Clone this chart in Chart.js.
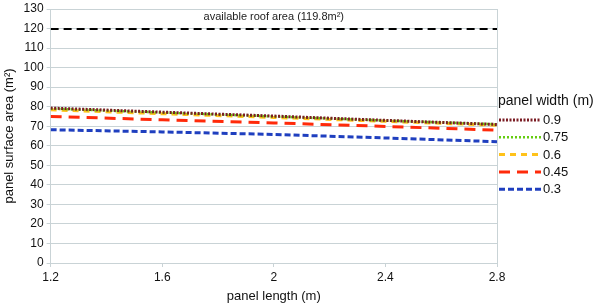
<!DOCTYPE html>
<html><head><meta charset="utf-8">
<script src="https://cdn.jsdelivr.net/npm/chart.js@4.4.0/dist/chart.umd.min.js"></script>
<style>html,body{margin:0;padding:0;background:#fff;}#wrap{width:600px;height:304px;}</style>
</head><body><div id="wrap"><canvas id="c" width="600" height="304"></canvas></div>
<script>
const panelLength = [1.2, 1.6, 2.0, 2.4, 2.8];
const xTicks = [1.2, 1.6, 2, 2.4, 2.8];
const w090 = [79.3, 77.2, 75.2, 73.0, 70.9];
const w075 = [79.0, 77.0, 75.0, 72.9, 71.0];
const w060 = [78.4, 76.4, 74.5, 72.5, 70.5];
const w045 = [75.0, 73.3, 71.7, 69.9, 68.0];
const w030 = [68.2, 67.1, 65.8, 64.0, 62.1];
const roofArea = 119.8;
const roofLabel = 'available roof area (119.8m\u00B2)';
const legendTitle = 'panel width (m)';

const toPts = arr => panelLength.map((x, i) => ({x, y: arr[i]}));
const gridCol = '#c9d3d6';
const fontFam = '"Liberation Sans", Arial, sans-serif';

const roofLabelPlugin = {
  id: 'roofLabel',
  afterDatasetsDraw(chart) {
    const {ctx, scales: {x, y}} = chart;
    const cx = (x.getPixelForValue(1.2) + x.getPixelForValue(2.8)) / 2;
    const py = y.getPixelForValue(roofArea);
    ctx.save();
    ctx.font = '11px ' + fontFam;
    ctx.fillStyle = '#222';
    ctx.textAlign = 'center';
    ctx.textBaseline = 'bottom';
    ctx.fillText(roofLabel, cx, py - 6);
    ctx.restore();
  }
};

const sideLegendPlugin = {
  id: 'sideLegend',
  afterDraw(chart) {
    const {ctx, chartArea} = chart;
    const x0 = chartArea.right + 1;
    ctx.save();
    ctx.font = '14px ' + fontFam;
    ctx.fillStyle = '#111';
    ctx.textAlign = 'left';
    ctx.textBaseline = 'middle';
    ctx.fillText(legendTitle, x0, 101);
    const items = chart.data.datasets.filter(ds => ds.label !== 'roof');
    items.forEach((ds, i) => {
      const yy = 120 + i * 17.3;
      ctx.save();
      ctx.strokeStyle = ds.borderColor;
      ctx.lineWidth = ds.borderWidth;
      ctx.setLineDash(ds.borderDash || []);
      ctx.beginPath();
      ctx.moveTo(x0 + 1, yy);
      ctx.lineTo(x0 + 43, yy);
      ctx.stroke();
      ctx.restore();
      ctx.font = '13px ' + fontFam;
      ctx.fillStyle = '#111';
      ctx.fillText(ds.label, x0 + 45, yy + 0.5);
    });
    ctx.restore();
  }
};

new Chart(document.getElementById('c'), {
  type: 'line',
  data: {
    datasets: [
      {label: '0.9', data: toPts(w090), borderColor: '#7b1d24', borderWidth: 3, borderDash: [2, 1.5]},
      {label: '0.75', data: toPts(w075), borderColor: '#66cc11', borderWidth: 2.5, borderDash: [2, 2]},
      {label: '0.6', data: toPts(w060), borderColor: '#ffc21a', borderWidth: 3, borderDash: [6, 5]},
      {label: '0.45', data: toPts(w045), borderColor: '#ff2a0a', borderWidth: 3, borderDash: [11, 7]},
      {label: '0.3', data: toPts(w030), borderColor: '#1f3fbf', borderWidth: 3, borderDash: [6, 3]},
      {label: 'roof', data: panelLength.map(x => ({x, y: roofArea})), borderColor: '#000', borderWidth: 2, borderDash: [8, 5]}
    ]
  },
  options: {
    responsive: false,
    animation: false,
    devicePixelRatio: 1,
    layout: {padding: {left: 2, right: 103, top: 0, bottom: 0}},
    elements: {point: {radius: 0}, line: {tension: 0, fill: false}},
    plugins: {
      tooltip: {enabled: false},
      legend: {display: false}
    },
    scales: {
      x: {
        type: 'linear', min: 1.2, max: 2.8,
        afterBuildTicks: s => { s.ticks = xTicks.map(v => ({value: v})); },
        ticks: {color: '#111', font: {family: fontFam, size: 12}, maxRotation: 0, callback: v => String(v), padding: 3},
        grid: {
          color: ctx => (ctx.index === xTicks.length - 1 ? gridCol : 'transparent'),
          tickColor: gridCol, tickLength: 4, drawOnChartArea: true
        },
        border: {color: gridCol},
        title: {display: true, text: 'panel length (m)', color: '#111', font: {family: fontFam, size: 13}, padding: {top: 1, bottom: 0}}
      },
      y: {
        min: 0, max: 130,
        ticks: {stepSize: 10, color: '#111', font: {family: fontFam, size: 12, lineHeight: 1.0}, padding: 3},
        grid: {color: gridCol, tickColor: gridCol, tickLength: 4},
        border: {color: gridCol},
        title: {display: true, text: 'panel surface area (m\u00B2)', color: '#111', font: {family: fontFam, size: 13}, padding: {top: 0, bottom: 3}}
      }
    }
  },
  plugins: [roofLabelPlugin, sideLegendPlugin]
});
</script></body></html>
